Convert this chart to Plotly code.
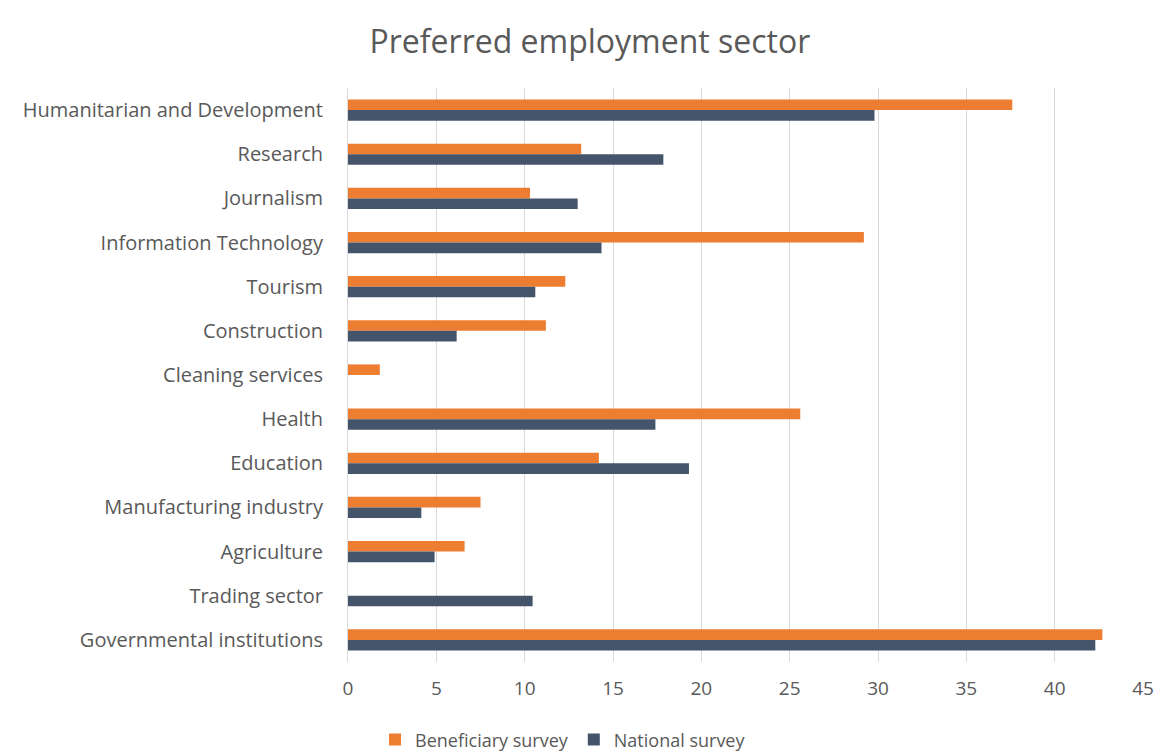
import plotly.graph_objects as go

# Sectors, listed top to bottom
sectors = [
    "Humanitarian and Development",
    "Research",
    "Journalism",
    "Information Technology",
    "Tourism",
    "Construction",
    "Cleaning services",
    "Health",
    "Education",
    "Manufacturing industry",
    "Agriculture",
    "Trading sector",
    "Governmental institutions",
]

# Share of respondents (%) per survey
beneficiary = [37.6, 13.2, 10.3, 29.2, 12.3, 11.2, 1.8, 25.6, 14.2, 7.5, 6.6, None, 42.7]
national = [29.8, 17.85, 13.0, 14.35, 10.6, 6.15, None, 17.4, 19.3, 4.15, 4.9, 10.45, 42.3]

x_ticks = [0, 5, 10, 15, 20, 25, 30, 35, 40, 45]

ORANGE = "#ED7D31"
NAVY = "#44546A"
TEXT = "#595959"
FONT = "Open Sans, Lato, sans-serif"

fig = go.Figure()
fig.add_trace(go.Bar(
    y=sectors, x=beneficiary, orientation="h",
    name="Beneficiary survey", marker=dict(color=ORANGE, line_width=0),
))
fig.add_trace(go.Bar(
    y=sectors, x=national, orientation="h",
    name="National survey", marker=dict(color=NAVY, line_width=0),
))

fig.update_layout(
    width=1159, height=755,
    margin=dict(l=348, r=16, t=88, b=93, autoexpand=False),
    paper_bgcolor="white", plot_bgcolor="white",
    barmode="group", bargap=0.52, bargroupgap=0,
    font=dict(family=FONT, color=TEXT, size=19),
    title=dict(
        text="Preferred employment sector",
        x=0.509, xanchor="center", xref="container",
        y=0.944, yanchor="middle", yref="container",
        font=dict(family=FONT, size=32, color=TEXT),
    ),
    legend=dict(
        orientation="h", x=0.034, xanchor="left",
        y=0.02, yanchor="middle", yref="container",
        font=dict(family=FONT, size=18, color=TEXT),
        itemwidth=30, traceorder="normal",
    ),
    showlegend=True,
)

fig.update_xaxes(
    range=[0, 45], tickvals=x_ticks, ticktext=[str(v) for v in x_ticks],
    showgrid=True, gridcolor="#D9D9D9", gridwidth=1,
    zeroline=False, showline=False,
    ticks="", ticklabelstandoff=13,
    tickfont=dict(family=FONT, size=19, color=TEXT),
    fixedrange=True,
)
fig.update_yaxes(
    categoryorder="array", categoryarray=sectors, autorange="reversed",
    showgrid=False, zeroline=False,
    showline=True, linecolor="#D9D9D9", linewidth=1,
    ticks="", ticklabelstandoff=20,
    tickfont=dict(family=FONT, size=20, color=TEXT),
    fixedrange=True,
)

fig.write_html("out.html")
